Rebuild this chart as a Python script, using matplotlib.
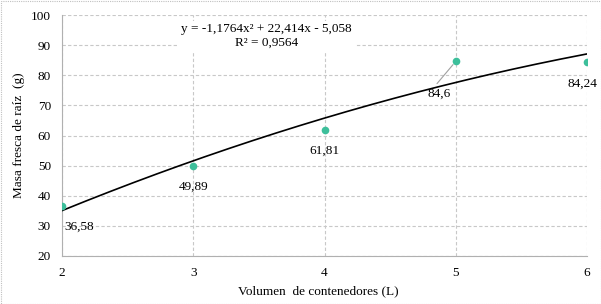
import numpy as np
import matplotlib
matplotlib.use("Agg")
import matplotlib.pyplot as plt
from matplotlib.patches import Rectangle

volumes = [2, 3, 4, 5, 6]
masses = [36.58, 49.89, 61.81, 84.6, 84.24]
labels = ["36,58", "49,89", "61,81", "84,6", "84,24"]
coef = [-1.1764, 22.414, -5.058]
equation = "y = -1,1764x² + 22,414x - 5,058"
r2_text = "R² = 0,9564"

plt.rcParams['font.family'] = ['Liberation Serif', 'DejaVu Serif']

fig = plt.figure(figsize=(6.01, 3.04), dpi=100)
ax = fig.add_axes([62/601, 1-256/304, (587-62)/601, (256-15)/304])

xs = np.linspace(2, 6, 200)
ax.plot(xs, np.polyval(coef, xs), color='black', lw=1.2, zorder=3)
ax.plot(volumes, masses, 'o', color='#3dbf9b', ms=5.5, zorder=4, mec='none')

ax.set_xlim(2, 6)
ax.set_ylim(20, 100)
ax.set_xticks(volumes)
ax.set_yticks(range(20, 101, 10))
ax.grid(True, color='#c8c8c8', ls=(0, (3, 2)), lw=0.8)
ax.set_axisbelow(True)
for s in ['top', 'right']:
    ax.spines[s].set_visible(False)
for s in ['left', 'bottom']:
    ax.spines[s].set_color('#b0b0b0')
ax.tick_params(length=0, labelsize=9.5, pad=8)
ax.set_xlabel("Volumen  de contenedores (L)", fontsize=9.5)
ax.xaxis.set_label_coords(0.488, -0.12)
ax.set_ylabel("Masa fresca de raíz  (g)", fontsize=9.5)
ax.yaxis.set_label_coords(-0.071, 0.5)

# data labels
offsets = [(2, -15), (0, -15), (0, -15), (-12, -23), (-3.5, -15)]
has = ['left', 'center', 'center', 'center', 'center']
for x, y, t, off, ha in zip(volumes, masses, labels, offsets, has):
    ax.annotate(t, (x, y), xytext=off, textcoords='offset points', ha=ha,
                va='center', fontsize=9.5, zorder=5)
# leader line for 84,6
ax.annotate("", (5, 84.6), xytext=(-13.5, -16), textcoords='offset points',
            arrowprops=dict(arrowstyle='-', color='#a0a0a0', lw=0.8,
                            shrinkA=0, shrinkB=3), zorder=2)

ax.text(0.39, 0.965, equation + "\n" + r2_text, transform=ax.transAxes,
        ha='center', va='top', fontsize=9.5, linespacing=1.15,
        bbox=dict(facecolor='white', edgecolor='none', pad=2), zorder=6)

fig.patches.append(Rectangle((0.5/601, 0.5/304), 1-1/601, 1-1/304,
                             transform=fig.transFigure, fill=False,
                             edgecolor='#c0c0c0', lw=0.8, ls=(0, (1, 1))))

fig.savefig("out.png", dpi=100)
